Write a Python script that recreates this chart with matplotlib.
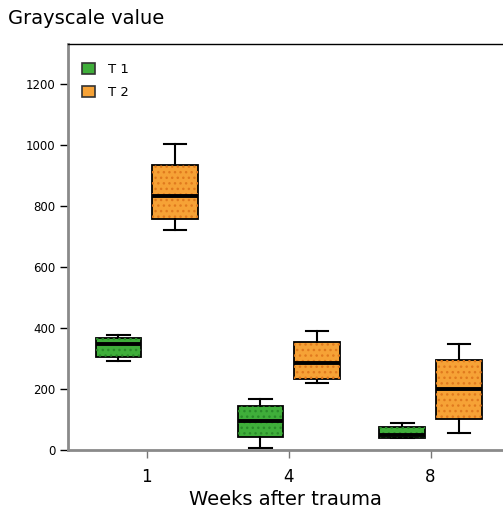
import numpy as np
import matplotlib as mpl
mpl.use('Agg')
from matplotlib import pyplot as plt
from matplotlib.patches import Patch

plt.rcParams['font.family'] = ['DejaVu Sans']

# data (grayscale values)
weeks = ['1', '4', '8']
groups = ['T 1', 'T 2']
t1_whislo = [292, 8, 40]
t1_q1 = [305, 44, 40]
t1_med = [348, 96, 48]
t1_q3 = [367, 144, 74]
t1_whishi = [377, 168, 87]
t2_whislo = [721, 219, 55]
t2_q1 = [758, 232, 100]
t2_med = [833, 284, 199]
t2_q3 = [934, 355, 295]
t2_whishi = [1002, 391, 346]

face = {'T 1': '#3fae3a', 'T 2': '#f6a236'}
dots = {'T 1': '#2a8a2a', 'T 2': '#e07a1e'}


def make_stats(lo, q1, med, q3, hi):
    return [dict(whislo=a, q1=b, med=c, q3=d, whishi=e, fliers=[])
            for a, b, c, d, e in zip(lo, q1, med, q3, hi)]


fig = plt.figure(figsize=(5.03, 5.14), dpi=100)
ax = fig.add_axes([68 / 503, 1 - 450 / 514, 1 - 68 / 503, (450 - 44) / 514])

x = np.arange(len(weeks))
offs = 0.2
width = 0.32
all_stats = {'T 1': make_stats(t1_whislo, t1_q1, t1_med, t1_q3, t1_whishi),
             'T 2': make_stats(t2_whislo, t2_q1, t2_med, t2_q3, t2_whishi)}

for k, g in enumerate(groups):
    pos = x + (-offs if k == 0 else offs)
    bp = ax.bxp(all_stats[g], positions=pos, widths=width, patch_artist=True,
                showfliers=False, manage_ticks=False,
                boxprops=dict(facecolor=face[g], edgecolor='black', linewidth=1.3),
                medianprops=dict(color='black', linewidth=2.8, solid_capstyle='butt'),
                whiskerprops=dict(color='black', linewidth=1.5),
                capprops=dict(color='black', linewidth=1.5))
    # dotted texture on top of the boxes
    for b in bp['boxes']:
        ov = mpl.patches.PathPatch(b.get_path(), facecolor='none', edgecolor=dots[g],
                                   linewidth=0, hatch='...', zorder=b.get_zorder() + 0.1)
        ax.add_patch(ov)
    for m in bp['medians']:
        m.set_zorder(5)

ax.set_xlim(-0.554, 2.51)
ax.set_ylim(0, 1330)
ax.set_xticks(x)
ax.set_xticklabels(weeks, fontsize=12)
ax.set_yticks([0, 200, 400, 600, 800, 1000, 1200])
ax.tick_params(axis='y', direction='out', length=6, width=1, labelsize=8.5, pad=3)
ax.tick_params(axis='x', direction='out', length=6, width=1, color='#777777',
               labelsize=12, pad=7)
ax.set_xlabel('Weeks after trauma', fontsize=14, labelpad=3)

for s in ['left', 'bottom']:
    ax.spines[s].set_color('#8a8a8a')
    ax.spines[s].set_linewidth(2)
ax.spines['top'].set_color('black')
ax.spines['top'].set_linewidth(1)
ax.spines['right'].set_visible(False)

fig.text(8 / 503, 1 - 18 / 514, 'Grayscale value', fontsize=14, va='center', ha='left')

handles = [Patch(facecolor=face[g], edgecolor='#333333', linewidth=1.2, label=g)
           for g in groups]
ax.legend(handles=handles, loc='upper left', bbox_to_anchor=(0.01, 0.975), frameon=False,
          fontsize=9.5, handlelength=1.0, handleheight=0.9, handletextpad=1.0,
          labelspacing=0.75, borderaxespad=0.3)

fig.savefig('out.png', dpi=100)
